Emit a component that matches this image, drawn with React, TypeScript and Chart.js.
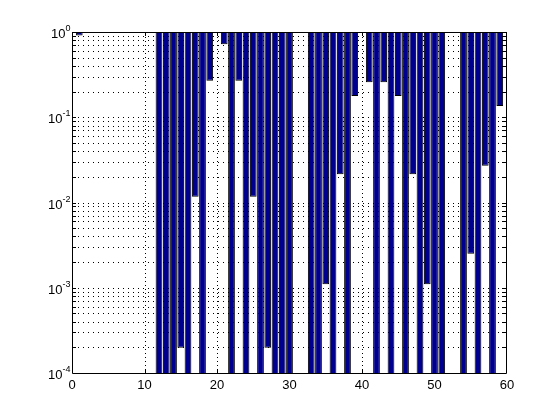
import React, { useEffect, useRef } from "react";
import { Chart, registerables } from "chart.js";

Chart.register(...registerables);

// Bar positions (x) and the lower end of each bar (bars are drawn from the value up to 1)
const barPositions = [
  1, 12, 13, 14, 15, 16, 17, 18, 19, 21, 22, 23, 24, 25, 26, 27, 28, 29, 30,
  33, 34, 35, 36, 37, 38, 39, 41, 42, 43, 44, 45, 46, 47, 48, 49, 50, 51,
  54, 55, 56, 57, 58, 59,
];
const barValues = [
  0.91, 1e-5, 1e-5, 1e-5, 1.98e-4, 1e-5, 0.0117, 1e-5, 0.268, 0.717, 1e-5, 0.268, 1e-5, 0.0117, 1e-5, 1.98e-4, 1e-5, 1e-5, 1e-5,
  1e-5, 1e-5, 1.1e-3, 1e-5, 0.0214, 1e-5, 0.177, 0.257, 1e-5, 0.257, 1e-5, 0.177, 1e-5, 0.0214, 1e-5, 1.1e-3, 1e-5, 1e-5,
  1e-5, 2.51e-3, 1e-5, 0.027, 1e-5, 0.1355,
];
const barTop = 1;

const xTickValues = [0, 10, 20, 30, 40, 50, 60];
const xTickLabels = ["0", "10", "20", "30", "40", "50", "60"];
const yTickValues = [1e-4, 1e-3, 1e-2, 1e-1, 1];
const yTickExponents = ["-4", "-3", "-2", "-1", "0"];

const X_MIN = 0;
const X_MAX = 60;
const Y_MIN = 1e-4;
const Y_MAX = 1;

const FONT = '"Liberation Sans", Arial, Helvetica, sans-serif';

function minorLogValues(): number[] {
  const out: number[] = [];
  for (let e = -4; e < 0; e++) {
    for (let m = 2; m <= 9; m++) out.push(m * Math.pow(10, e));
  }
  return out;
}

const matlabAxes = {
  id: "matlabAxes",
  beforeDatasetsDraw(chart: any) {
    const { ctx, chartArea: a, scales } = chart;
    const xs = scales.x;
    const ys = scales.y;
    ctx.save();
    ctx.beginPath();
    ctx.rect(a.left, a.top, a.right - a.left, a.bottom - a.top);
    ctx.clip();
    ctx.strokeStyle = "#000";
    ctx.lineWidth = 1;
    // horizontal grid (major + minor)
    ctx.setLineDash([1, 4]);
    const hv = [...yTickValues, ...minorLogValues()];
    hv.forEach((v) => {
      const y = Math.round(ys.getPixelForValue(v)) + 0.5;
      if (y <= a.top + 1 || y >= a.bottom - 1) return;
      ctx.beginPath();
      ctx.moveTo(a.left + 1, y);
      ctx.lineTo(a.right, y);
      ctx.stroke();
    });
    // vertical grid
    ctx.setLineDash([1, 3]);
    xTickValues.forEach((v) => {
      const x = Math.round(xs.getPixelForValue(v)) + 0.5;
      if (x <= a.left + 1 || x >= a.right - 1) return;
      ctx.beginPath();
      ctx.moveTo(x, a.top + 1);
      ctx.lineTo(x, a.bottom);
      ctx.stroke();
    });
    ctx.setLineDash([]);
    // ticks (inward)
    const tl = 4;
    hv.forEach((v) => {
      const y = Math.round(ys.getPixelForValue(v)) + 0.5;
      ctx.beginPath();
      ctx.moveTo(a.left, y);
      ctx.lineTo(a.left + tl, y);
      ctx.moveTo(a.right, y);
      ctx.lineTo(a.right - tl - 1, y);
      ctx.stroke();
    });
    xTickValues.forEach((v) => {
      const x = Math.round(xs.getPixelForValue(v)) + 0.5;
      ctx.beginPath();
      ctx.moveTo(x, a.bottom);
      ctx.lineTo(x, a.bottom - tl);
      ctx.moveTo(x, a.top);
      ctx.lineTo(x, a.top + tl);
      ctx.stroke();
    });
    ctx.restore();
  },
  afterDatasetsDraw(chart: any) {
    const { ctx, chartArea: a, scales } = chart;
    const xs = scales.x;
    const ys = scales.y;
    ctx.save();
    ctx.strokeStyle = "#000";
    ctx.lineWidth = 1;
    const L = Math.round(a.left) + 0.5;
    const R = Math.round(a.right) - 0.5;
    const T = Math.round(a.top) + 0.5;
    const B = Math.round(a.bottom) + 0.5;
    ctx.beginPath();
    ctx.moveTo(L, T);
    ctx.lineTo(R, T);
    ctx.lineTo(R, B);
    ctx.lineTo(L, B);
    ctx.closePath();
    ctx.stroke();

    ctx.fillStyle = "#000";
    // x tick labels
    ctx.font = `13px ${FONT}`;
    ctx.textAlign = "center";
    ctx.textBaseline = "alphabetic";
    xTickValues.forEach((v, i) => {
      const x = xs.getPixelForValue(v);
      ctx.fillText(xTickLabels[i], x, 389);
    });
    // y tick labels: 10 with superscript exponent
    yTickValues.forEach((v, i) => {
      const y = ys.getPixelForValue(v);
      ctx.font = `9px ${FONT}`;
      const ew = ctx.measureText(yTickExponents[i]).width;
      const ex = 70.5 - ew;
      ctx.textAlign = "left";
      ctx.fillText(yTickExponents[i], ex, y - 1);
      ctx.font = `13px ${FONT}`;
      ctx.textAlign = "right";
      ctx.fillText("10", ex, y + 6);
    });
    ctx.restore();
  },
};

export default function App() {
  const canvasRef = useRef<HTMLCanvasElement | null>(null);

  useEffect(() => {
    const canvas = canvasRef.current;
    if (!canvas) return;
    const data = barPositions.map((x, i) => ({ x, y: [barValues[i], barTop] }));
    const chart = new Chart(canvas, {
      type: "bar",
      data: {
        datasets: [
          {
            data: data as any,
            backgroundColor: "#00008F",
            borderColor: "#000000",
            borderWidth: 1,
            borderSkipped: false,
            barPercentage: 0.93,
            categoryPercentage: 1,
            clip: 0,
          } as any,
        ],
      },
      options: {
        responsive: false,
        animation: false,
        devicePixelRatio: 1,
        layout: { padding: { left: 72, top: 32, right: 53, bottom: 47 } },
        plugins: {
          legend: { display: false },
          tooltip: { enabled: false },
        },
        scales: {
          x: {
            type: "linear",
            min: X_MIN,
            max: X_MAX,
            offset: false,
            display: false,
          },
          y: {
            type: "logarithmic",
            min: Y_MIN,
            max: Y_MAX,
            display: false,
          },
        },
      },
      plugins: [matlabAxes],
    });
    return () => chart.destroy();
  }, []);

  return (
    <div style={{ position: "absolute", left: 0, top: 0, width: 560, height: 420, background: "#fff" }}>
      <canvas ref={canvasRef} width={560} height={420} style={{ display: "block" }} />
    </div>
  );
}
